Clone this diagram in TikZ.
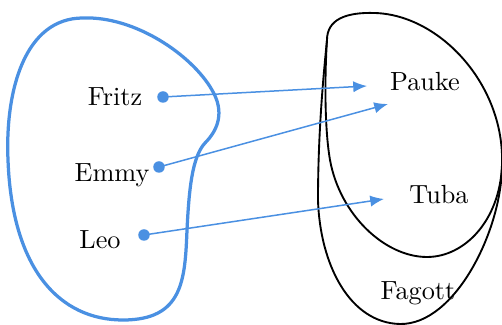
\documentclass[tikz,border=0pt]{standalone}
\usetikzlibrary{arrows.meta}
\definecolor{setblue}{RGB}{74,144,226}
\begin{document}
\begin{tikzpicture}[x=0.4pt,y=-0.4pt,
  lbl/.style={anchor=base,inner sep=0pt,font=\fontsize{10.5}{12}\selectfont},
  dotnode/.style={circle,fill=setblue,inner sep=0pt,minimum size=4.6pt},
  maparrow/.style={draw=setblue,line width=0.6pt,-{Latex[length=5.5pt,width=4.5pt]}},
  blob/.style={draw=setblue,line width=1.3pt},
  setline/.style={draw=black,line width=0.75pt}]
\useasboundingbox (0,0) rectangle (502,325);
% left blue set
\path[blob] (83,18) .. controls (135,16) and (192,55) .. (212,90)
  .. controls (225,112) and (218,130) .. (205,143)
  .. controls (192,157) and (189,190) .. (187,230)
  .. controls (185,280) and (183,320) .. (123,320)
  .. controls (60,320) and (12,270) .. (8,160)
  .. controls (5,90) and (25,18) .. (83,18) -- cycle;
% inner black set (Pauke, Tuba)
\path[setline] (327,40) .. controls (327,20) and (345,12) .. (375,13)
  .. controls (440,15) and (505,85) .. (502,165)
  .. controls (500,220) and (465,257) .. (427,257)
  .. controls (385,257) and (340,215) .. (330,160)
  .. controls (324,125) and (325,70) .. (327,40) -- cycle;
% outer black set (Fagott)
\path[setline] (502,165)
  .. controls (502,230) and (455,325) .. (400,324)
  .. controls (350,323) and (320,265) .. (318,200)
  .. controls (318,130) and (324,70) .. (327,40);
% labels
\node[lbl] (fritz) at (115,106) {Fritz};
\node[lbl] (emmy) at (112,182) {Emmy};
\node[lbl] (leo) at (100,249) {Leo};
\node[lbl] (pauke) at (425,91) {Pauke};
\node[lbl] (tuba) at (439,204) {Tuba};
\node[lbl] (fagott) at (418,300) {Fagott};
% dots
\node[dotnode] (dfritz) at (163,97) {};
\node[dotnode] (demmy) at (159,167) {};
\node[dotnode] (dleo) at (144,235) {};
% arrow ends
\coordinate (tpauke1) at (367,86);
\coordinate (tpauke2) at (388,104);
\coordinate (ttuba) at (384,199);
\draw[maparrow] (dfritz.center) -- (tpauke1);
\draw[maparrow] (demmy.center) -- (tpauke2);
\draw[maparrow] (dleo.center) -- (ttuba);
\end{tikzpicture}
\end{document}
